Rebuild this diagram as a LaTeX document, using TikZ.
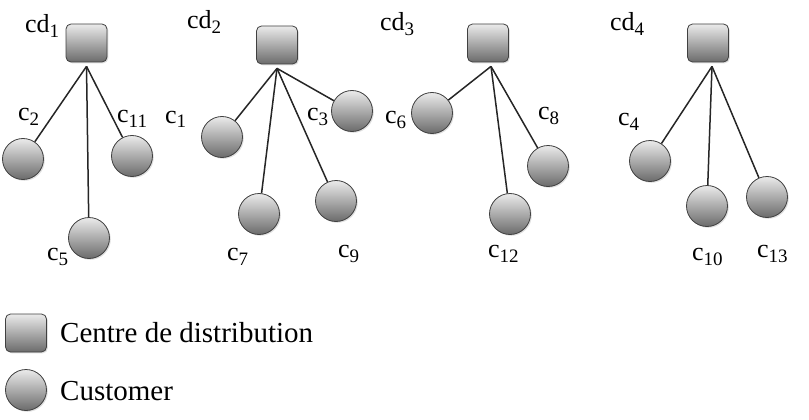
\documentclass[tikz,border=0pt]{standalone}
\usepackage{fontspec}
\setmainfont{Liberation Serif}
\usetikzlibrary{shadows}
\newcommand\sbs[1]{\raisebox{-5pt}{\fontsize{19}{20}\selectfont #1}}
\begin{document}
\begin{tikzpicture}[x=1pt,y=1pt,
  shade3d/.style={top color=black!8, bottom color=black!58, draw=black!75, line width=0.8pt,
    drop shadow={opacity=0.25, shadow xshift=1.3pt, shadow yshift=-1.3pt}},
  depot/.style={shade3d, rounded corners=5pt, minimum width=41pt, minimum height=38pt, inner sep=0pt},
  cust/.style={shade3d, circle, minimum size=41pt, inner sep=0pt},
  lbl/.style={font=\fontsize{26}{28}\selectfont, inner sep=0pt, anchor=base west},
  legtext/.style={font=\fontsize{29}{32}\selectfont, inner sep=0pt, anchor=base west},
  link/.style={line width=1.5pt, black!85}]
\useasboundingbox (0,0) rectangle (809,-420);

% depots
\node[depot] (d1) at (86.5,-43) {};
\node[depot] (d2) at (277,-45) {};
\node[depot] (d3) at (488,-43) {};
\node[depot] (d4) at (708,-43) {};

% meeting points
\coordinate (m1) at ([yshift=-4pt]d1.south);
\coordinate (m2) at ([yshift=-4pt]d2.south);
\coordinate (m3) at ([xshift=3pt,yshift=-4pt]d3.south);
\coordinate (m4) at ([xshift=4pt,yshift=-4pt]d4.south);

% customers
\node[cust] (c2)  at (23,-159) {};
\node[cust] (c11) at (132,-156) {};
\node[cust] (c5)  at (89,-238) {};
\node[cust] (c1)  at (222,-137) {};
\node[cust] (c3)  at (352,-111) {};
\node[cust] (c7)  at (259,-214) {};
\node[cust] (c9)  at (336,-201) {};
\node[cust] (c6)  at (432,-113) {};
\node[cust] (c8)  at (548,-166) {};
\node[cust] (c12) at (510,-214) {};
\node[cust] (c4)  at (650,-161) {};
\node[cust] (c10) at (707,-206) {};
\node[cust] (c13) at (767,-197) {};

% links
\draw[link] (m1) -- (c2);
\draw[link] (m1) -- (c5);
\draw[link] (m1) -- (c11);
\draw[link] (m2) -- (c1);
\draw[link] (m2) -- (c7);
\draw[link] (m2) -- (c9);
\draw[link] (m2) -- (c3);
\draw[link] (m3) -- (c6);
\draw[link] (m3) -- (c12);
\draw[link] (m3) -- (c8);
\draw[link] (m4) -- (c4);
\draw[link] (m4) -- (c10);
\draw[link] (m4) -- (c13);

% labels
\node[lbl] (ld1) at (25,-33) {cd\sbs{1}};
\node[lbl] (ld2) at (187,-29) {cd\sbs{2}};
\node[lbl] (ld3) at (380,-31) {cd\sbs{3}};
\node[lbl] (ld4) at (610,-31) {cd\sbs{4}};
\node[lbl] (lc2)  at (18,-121) {c\sbs{2}};
\node[lbl] (lc11) at (117,-122) {c\sbs{11}};
\node[lbl] (lc5)  at (47,-260) {c\sbs{5}};
\node[lbl] (lc1)  at (165,-123) {c\sbs{1}};
\node[lbl] (lc3)  at (307,-121) {c\sbs{3}};
\node[lbl] (lc7)  at (227,-260) {c\sbs{7}};
\node[lbl] (lc9)  at (338,-257) {c\sbs{9}};
\node[lbl] (lc6)  at (385,-124) {c\sbs{6}};
\node[lbl] (lc8)  at (538,-120) {c\sbs{8}};
\node[lbl] (lc12) at (488,-257) {c\sbs{12}};
\node[lbl] (lc4)  at (618,-125) {c\sbs{4}};
\node[lbl] (lc10) at (692,-260) {c\sbs{10}};
\node[lbl] (lc13) at (757,-257) {c\sbs{13}};

% legend
\node[depot] (ld) at (26,-333) {};
\node[cust]  (lcst) at (26,-390) {};
\node[legtext] (t1) at (60,-342) {Centre de distribution};
\node[legtext] (t2) at (60,-400) {Customer};
\end{tikzpicture}
\end{document}
